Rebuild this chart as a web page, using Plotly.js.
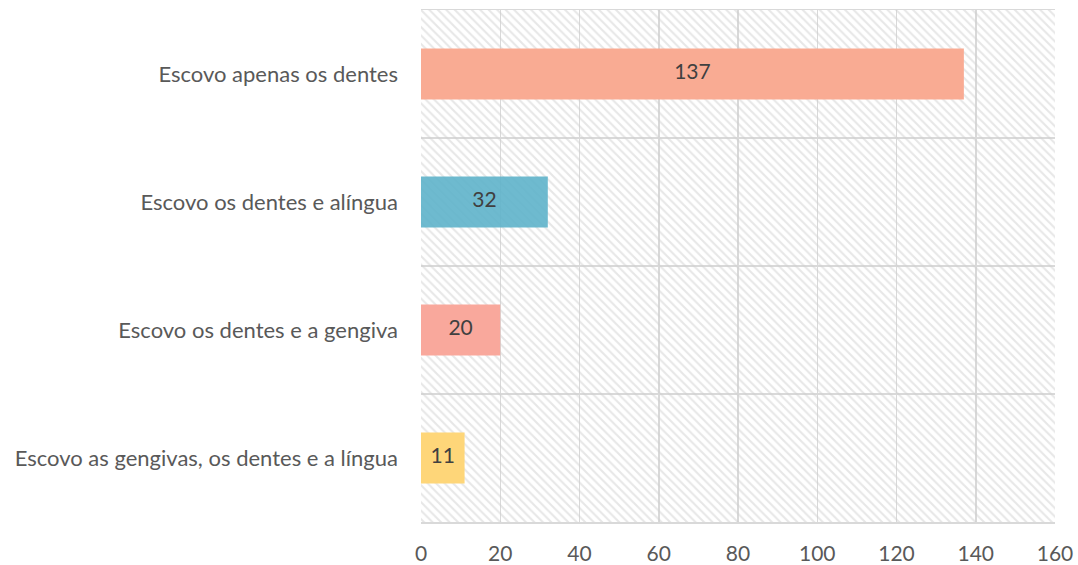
<!DOCTYPE html>
<html>
<head>
<meta charset="utf-8">
<script src="https://cdn.plot.ly/plotly-3.0.1.min.js"></script>
<style>html,body{margin:0;padding:0;background:#fff;}#chart{width:1078px;height:565px;}</style>
</head>
<body>
<div id="chart"></div>
<script>
const categories = [
  "Escovo apenas os dentes",
  "Escovo os dentes e alíngua",
  "Escovo os dentes e a gengiva",
  "Escovo as gengivas, os dentes e a língua"
];
const values = [137, 32, 20, 11];
const barColors = ["#F9AB93", "rgba(94,178,202,0.9)", "#F9A89C", "#FED679"];
const xMax = 160;
const xTicks = [0, 20, 40, 60, 80, 100, 120, 140, 160];

const FONT = "Lato, 'Open Sans', sans-serif";

const background = {
  type: "bar", orientation: "h",
  y: categories, x: categories.map(() => xMax),
  width: 1,
  marker: {
    color: "rgba(0,0,0,0)",
    line: {width: 0},
    pattern: {shape: "\\", fgcolor: "#cfcfcf", bgcolor: "rgba(0,0,0,0)", size: 6, solidity: 0.35, fillmode: "overlay"}
  },
  hoverinfo: "skip", showlegend: false
};

const bars = {
  type: "bar", orientation: "h",
  y: categories, x: values,
  width: 0.4,
  marker: {color: barColors, line: {width: 0}},
  showlegend: false
};

const labels = {
  type: "scatter", mode: "text",
  y: categories, x: values.map(v => v / 2),
  text: values.map(String),
  textposition: "middle center",
  textfont: {family: FONT, size: 21, color: "#404040"},
  showlegend: false, hoverinfo: "skip"
};

const layout = {
  width: 1078, height: 565,
  margin: {l: 421, r: 23, t: 10, b: 43},
  paper_bgcolor: "#ffffff", plot_bgcolor: "#ffffff",
  barmode: "overlay",
  font: {family: FONT, size: 20, color: "#595959"},
  xaxis: {
    range: [0, xMax], tickvals: xTicks, ticktext: xTicks.map(String),
    showgrid: true, gridcolor: "#d9d9d9", gridwidth: 1.5,
    zeroline: false, showline: true, mirror: true, linecolor: "#d9d9d9", linewidth: 1.5,
    ticks: "",
    ticklabelstandoff: 12,
    tickfont: {family: FONT, size: 21, color: "#595959"}
  },
  yaxis: {
    type: "category", autorange: "reversed",
    tickson: "boundaries", showgrid: true, gridcolor: "#d9d9d9", gridwidth: 1.5,
    zeroline: false, showline: false, ticks: "",
    ticklabelstandoff: 22,
    tickfont: {family: FONT, size: 22, color: "#595959"}
  }
};

Plotly.newPlot("chart", [background, bars, labels], layout, {displayModeBar: false, staticPlot: true});
</script>
</body>
</html>
